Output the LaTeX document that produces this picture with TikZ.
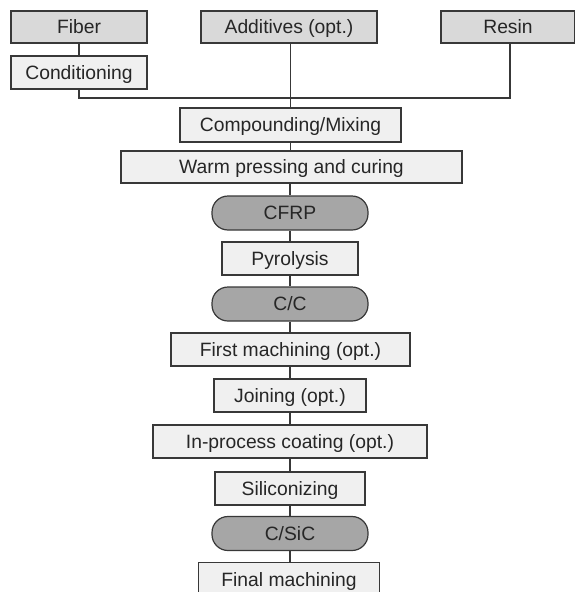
\documentclass[tikz,border=0pt]{standalone}
\usepackage{fontspec}
\setmainfont{Liberation Sans}
\begin{document}
\begin{tikzpicture}[x=1pt,y=-1pt,
  base/.style={draw=black!78,line width=1.2pt,inner sep=0pt,font=\fontsize{19.3}{21}\selectfont,text=black!85,text height=13.8pt,text depth=0pt},
  input/.style={base,rectangle,fill=black!15,minimum height=32pt},
  stepbox/.style={base,rectangle,fill=black!6,minimum height=33pt},
  product/.style={base,rectangle,rounded corners=16pt,fill=black!35,minimum width=156pt,minimum height=34pt},
  link/.style={draw=black!78,line width=1.2pt}]
\useasboundingbox (0,0) rectangle (575,592);
\clip (0,0) rectangle (575,592);
\node[input,minimum width=136pt] (fiber) at (79,27) {Fiber};
\node[input,minimum width=176pt] (add) at (289,27) {Additives (opt.)};
\node[input,minimum width=134pt] (resin) at (508,27) {Resin};
\node[stepbox,minimum width=136pt] (cond) at (79,72.5) {Conditioning};
\node[stepbox,minimum width=221pt,minimum height=34pt] (comp) at (290.5,125) {Compounding/Mixing};
\node[stepbox,minimum width=341pt,minimum height=32pt] (warm) at (291.5,167) {Warm pressing and curing};
\node[product] (cfrp) at (290,213) {CFRP};
\node[stepbox,minimum width=136pt] (pyro) at (290,258.5) {Pyrolysis};
\node[product] (cc) at (290,304) {C/C};
\node[stepbox,minimum width=239pt] (first) at (290.5,349.5) {First machining (opt.)};
\node[stepbox,minimum width=152pt] (join) at (290,395.5) {Joining (opt.)};
\node[stepbox,minimum width=274pt] (inproc) at (290,441.5) {In-process coating (opt.)};
\node[stepbox,minimum width=150pt] (sili) at (290,488.5) {Siliconizing};
\node[product] (csic) at (290,533.5) {C/SiC};
\node[stepbox,minimum width=181pt,minimum height=34pt,anchor=north] (final) at (289,562) {Final machining};
\coordinate (jl) at (79,98);
\coordinate (jr) at (510,98);
\draw[link] (fiber) -- (cond);
\draw[link] (cond.south) -- (jl) -- (jr) -- (jr |- resin.south);
\draw[link] (add.south -| comp.north) -- (comp.north);
\draw[link] (comp) -- (comp |- warm.north);
\draw[link] (cfrp |- warm.south) -- (cfrp);
\draw[link] (cfrp) -- (pyro);
\draw[link] (pyro) -- (cc);
\draw[link] (cc) -- (cc |- first.north);
\draw[link] (cc |- first.south) -- (cc |- join.north);
\draw[link] (join) -- (join |- inproc.north);
\draw[link] (join |- inproc.south) -- (sili);
\draw[link] (sili) -- (csic);
\draw[link] (csic) -- (csic |- final.north);
\end{tikzpicture}
\end{document}
